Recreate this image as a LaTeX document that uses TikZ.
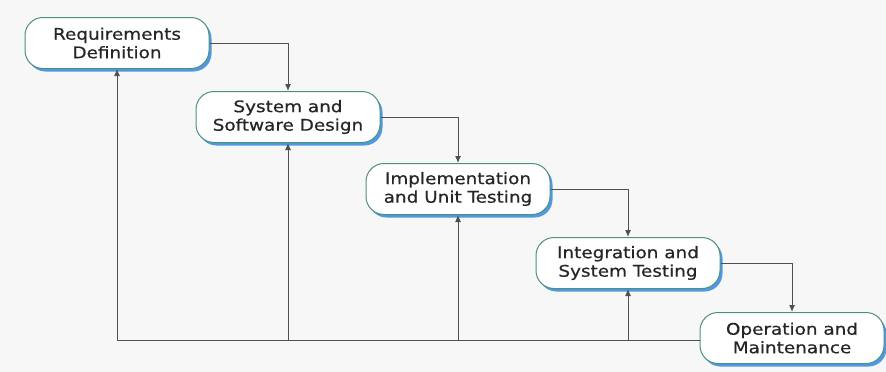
\documentclass[tikz,border=0pt]{standalone}
\usepackage{fontspec}
\setmainfont{DejaVu Sans}[FakeStretch=1.15, FakeBold=0.6]
\usetikzlibrary{arrows.meta,shadows}
\definecolor{pagebg}{HTML}{F7F7F7}
\definecolor{boxedge}{HTML}{4E8F80}
\definecolor{boxshade}{HTML}{3D8FE0}
\definecolor{wire}{HTML}{505050}
\tikzset{
  phase/.style={draw=boxedge, line width=1pt, fill=white, rounded corners=18pt,
    minimum width=184pt, minimum height=51pt, align=center, inner sep=2pt,
    font=\fontsize{16}{18.5}\selectfont, text=black!85,
    drop shadow={shadow xshift=2.5pt, shadow yshift=-3pt, fill=boxshade, opacity=0.9}},
  flow/.style={draw=wire, line width=1pt, -{Latex[length=7pt,width=6pt]}},
  wireline/.style={draw=wire, line width=1pt}
}
\begin{document}
\begin{tikzpicture}[x=1pt,y=-1pt]
\fill[pagebg] (0,0) rectangle (886,372);
\useasboundingbox (0,0) rectangle (886,372);

\node[phase] (req) at (117,43) {Requirements\\Definition};
\node[phase] (des) at (288,117) {System and\\Software Design};
\node[phase] (imp) at (458,189) {Implementation\\and Unit Testing};
\node[phase] (int) at (628,263) {Integration and\\System Testing};
\node[phase] (ops) at (792,338) {Operation and\\Maintenance};

% forward cascade
\draw[flow] (req.east) -| (des.north);
\draw[flow] (des.east) -| (imp.north);
\draw[flow] (imp.east) -| (int.north);
\draw[flow] (int.east) -| (ops.north);

% feedback bus along the bottom
\coordinate (busend) at (117,340);
\draw[wireline] (ops.west |- 0,340) -- (busend);
\draw[flow] (busend) -- (req.south);
\draw[flow] (des.south |- busend) -- (des.south);
\draw[flow] (imp.south |- busend) -- (imp.south);
\draw[flow] (int.south |- busend) -- (int.south);
\end{tikzpicture}
\end{document}
